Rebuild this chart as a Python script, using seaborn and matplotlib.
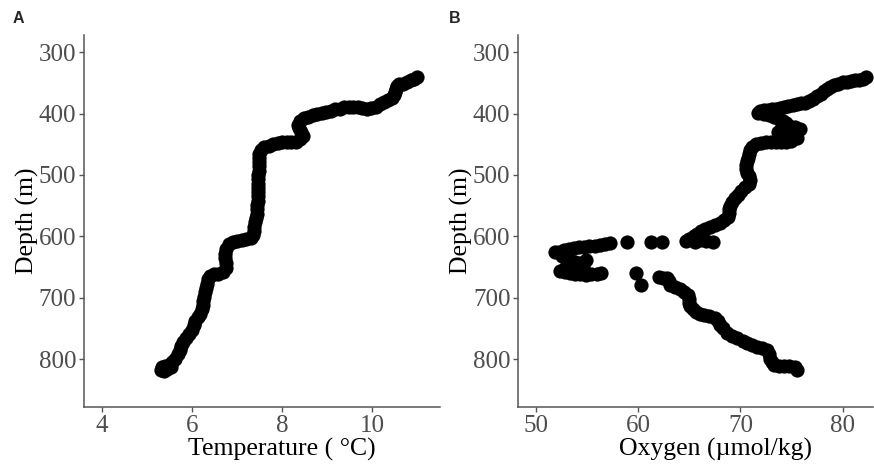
import matplotlib
matplotlib.use("Agg")
import matplotlib.pyplot as plt
import seaborn as sns
import pandas as pd

# Panel A: temperature profile (top to bottom)
temp_c = [10.98, 10.92, 10.85, 10.76, 10.68, 10.60, 10.55, 10.52, 10.50, 10.47,
          10.43, 10.35, 10.26, 10.18, 10.08, 9.98, 9.88, 9.78, 9.68, 9.58,
          9.48, 9.38, 9.28, 9.18, 9.08, 8.98, 8.88, 8.78, 8.68, 8.58,
          8.48, 8.40, 8.36, 8.37, 8.42, 8.46, 8.40, 8.30, 8.20, 8.10,
          8.00, 7.90, 7.80, 7.70, 7.60, 7.52, 7.49, 7.49, 7.48, 7.48,
          7.48, 7.47, 7.47, 7.47, 7.47, 7.47, 7.47, 7.46, 7.45, 7.44,
          7.43, 7.41, 7.40, 7.38, 7.37, 7.36, 7.30, 7.20, 7.10, 7.00,
          6.90, 6.82, 6.76, 6.73, 6.74, 6.76, 6.75, 6.68, 6.58, 6.48,
          6.40, 6.35, 6.33, 6.31, 6.28, 6.26, 6.25, 6.24, 6.22, 6.18,
          6.12, 6.07, 6.04, 6.00, 5.94, 5.86, 5.80, 5.76, 5.72, 5.68,
          5.62, 5.56, 5.48, 5.40, 5.33, 5.30, 5.38, 5.45, 5.52]
temp_depth = [341, 344, 346, 348, 351, 352, 355, 360, 365, 370,
              375, 378, 381, 385, 389, 391, 392, 391, 390, 389,
              389, 390, 392, 393, 395, 397, 399, 401, 403, 405,
              408, 412, 418, 424, 430, 436, 442, 446, 446, 446,
              447, 448, 450, 452, 455, 460, 466, 472, 479, 486,
              493, 500, 507, 514, 521, 528, 535, 542, 549, 556,
              563, 570, 577, 584, 591, 597, 603, 605, 606, 607,
              609, 613, 620, 628, 636, 644, 652, 658, 661, 662,
              664, 670, 677, 684, 691, 698, 705, 712, 719, 726,
              732, 738, 745, 752, 759, 766, 772, 779, 785, 792,
              799, 805, 809, 811, 813, 817, 819, 816, 813]

# Panel B: oxygen profile
oxy = [82.3, 82.0, 81.6, 81.2, 80.8, 80.4, 80.0, 79.6, 79.2, 78.8,
       78.5, 78.2, 77.9, 77.5, 77.1, 76.7, 76.3, 75.9, 75.5, 75.1,
       74.7, 74.3, 73.9, 73.5, 73.1, 72.7, 72.3, 71.9, 71.7,
       72.3, 72.8, 73.3, 73.8, 74.2, 74.5, 74.8, 75.3, 75.8, 74.0,
       73.7, 74.2, 75.0, 75.5, 75.0, 74.5, 74.0, 73.5, 73.0, 72.5,
       72.0, 71.5, 71.1, 70.9, 70.8, 70.7, 70.6, 70.5, 70.5, 70.6,
       70.8, 70.9, 70.8, 70.4, 70.1, 69.8, 69.5, 69.2, 69.0, 68.9,
       68.9, 68.8, 68.4, 68.0, 67.5, 67.0, 66.5, 66.1, 65.7, 65.4,
       65.0, 64.7, 66.0, 66.6, 67.3, 65.5,
       62.3, 61.2, 58.9,
       57.2, 56.7, 56.2, 55.7, 55.2, 54.7, 54.2, 53.7, 53.2, 52.7,
       52.2, 51.8, 52.5, 53.0, 53.4, 53.8, 54.3, 54.9, 54.6, 53.2,
       52.8, 52.3, 52.8, 53.3, 53.8, 54.3, 54.9, 55.4, 55.9, 56.3,
       59.8, 60.3,
       62.0, 62.4, 62.8, 63.0, 63.1, 63.6, 64.1, 64.5, 64.9, 65.0,
       65.0, 65.1, 65.3, 65.6, 66.0, 66.4, 66.9, 67.5, 67.8, 68.0,
       68.3, 68.7, 69.2, 69.7, 70.2, 70.6, 71.1, 71.6, 72.1, 72.6,
       72.8, 72.9, 73.1, 73.3, 73.8, 74.3, 74.8, 75.3, 75.5]
oxy_depth = [340, 343, 345, 346, 347, 348, 349, 351, 353, 356,
             360, 364, 368, 372, 376, 379, 382, 383, 384, 386,
             388, 390, 391, 392, 393, 394, 394, 396, 399,
             400, 403, 406, 409, 412, 416, 420, 422, 425, 425,
             430, 434, 436, 440, 444, 446, 446, 446, 447, 447,
             448, 450, 455, 460, 466, 472, 478, 484, 490, 496,
             502, 508, 514, 520, 526, 532, 538, 544, 550, 556,
             562, 568, 574, 578, 581, 584, 588, 592, 596, 600,
             604, 607, 606, 608, 609, 609,
             610, 610, 610,
             611, 613, 614, 615, 616, 617, 618, 619, 620, 622,
             625, 626, 632, 636, 640, 642, 644, 638, 650, 648,
             652, 656, 658, 660, 661, 662, 663, 662, 661, 660,
             660, 679,
             666, 668, 668, 673, 679, 682, 685, 690, 696, 702,
             708, 713, 718, 723, 726, 728, 730, 733, 738, 744,
             750, 757, 762, 766, 770, 774, 777, 780, 782, 785,
             792, 799, 805, 810, 812, 812, 812, 813, 818]

df_t = pd.DataFrame({"temp": temp_c, "depth": temp_depth})
df_o = pd.DataFrame({"oxy": oxy, "depth": oxy_depth})

sns.set_style("ticks")
plt.rcParams['font.family'] = ['Liberation Serif', 'DejaVu Serif']

fig = plt.figure(figsize=(8.74, 4.65), dpi=100)
ax1 = fig.add_axes([0.0961, 0.1247, 0.4073, 0.80])
ax2 = fig.add_axes([0.5927, 0.1247, 0.4063, 0.80])

sns.scatterplot(data=df_t, x="temp", y="depth", ax=ax1, color="black",
                s=105, linewidth=0)
sns.scatterplot(data=df_o, x="oxy", y="depth", ax=ax2, color="black",
                s=105, linewidth=0)

ax1.set_xlim(3.6, 11.5)
ax1.set_xticks([4, 6, 8, 10])
ax2.set_xlim(48.2, 83.0)
ax2.set_xticks([50, 60, 70, 80])

for ax, xlab in [(ax1, "Temperature ( °C)"), (ax2, "Oxygen (µmol/kg)")]:
    ax.set_ylim(878, 272)
    ax.set_yticks([300, 400, 500, 600, 700, 800])
    ax.set_xlabel(xlab, fontsize=18.5, color="black")
    ax.set_ylabel("Depth (m)", fontsize=18.5, color="black", labelpad=0)
    ax.xaxis.set_label_coords(0.556, -0.083)
    ax.tick_params(axis="both", labelsize=18, labelcolor="#4d4d4d",
                   color="#555555", length=3.5, width=1, pad=2)
    for side in ["left", "bottom"]:
        ax.spines[side].set_color("#555555")
        ax.spines[side].set_linewidth(1.1)
    sns.despine(ax=ax)

fig.text(0.0206, 0.96, "A", fontsize=11.5, fontweight="bold",
         family="Liberation Sans", ha="center", va="center")
fig.text(0.5206, 0.96, "B", fontsize=11.5, fontweight="bold",
         family="Liberation Sans", ha="center", va="center")

plt.savefig("out.png", dpi=100)
